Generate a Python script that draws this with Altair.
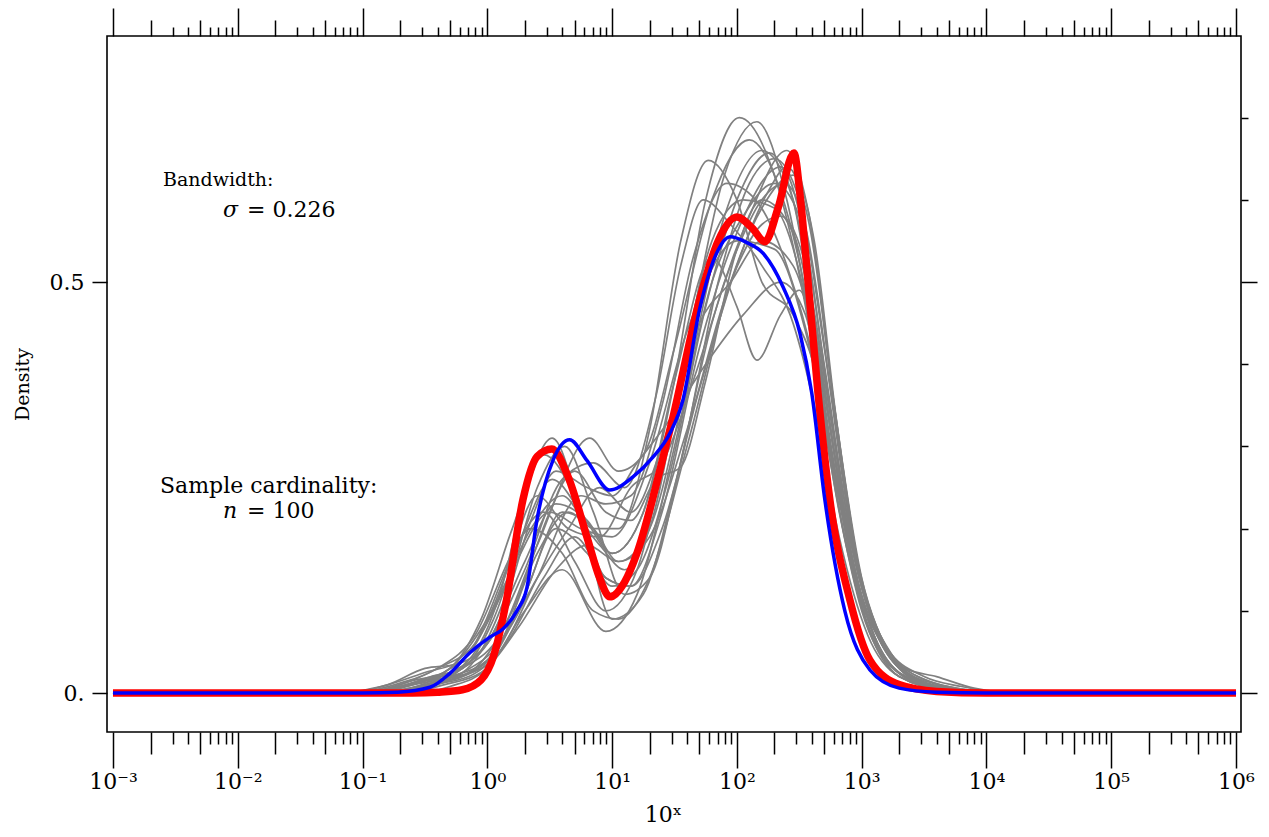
import math
import altair as alt
import pandas as pd

# ---------------- data ----------------
# x is log10 of the value (axis shows 10^x), y is density
RED_X = [-3.0, -0.6, -0.4, -0.2, -0.05, 0.05, 0.15, 0.285, 0.40, 0.517, 0.65, 0.798, 0.90, 0.982,
         1.10, 1.199, 1.383, 1.487, 1.70, 1.85, 2.0, 2.12, 2.224, 2.33, 2.457, 2.51, 2.56,
         2.65, 2.745, 2.906, 3.066, 3.306, 3.6, 4.0, 6.0]
RED_Y = [0.0, 0.0, 0.001, 0.004, 0.016, 0.045, 0.11, 0.235, 0.288, 0.297, 0.262, 0.19, 0.14, 0.117,
         0.135, 0.17, 0.271, 0.335, 0.478, 0.55, 0.579, 0.566, 0.549, 0.59, 0.657, 0.60, 0.518,
         0.365, 0.235, 0.113, 0.04, 0.01, 0.002, 0.0, 0.0]

BLUE_X = [-3.0, -1.0, -0.72, -0.46, -0.3, -0.14, 0.02, 0.125, 0.237, 0.317, 0.397, 0.526, 0.66,
          0.798, 0.98, 1.167, 1.327, 1.463, 1.567, 1.70, 1.85, 1.944, 2.08, 2.21, 2.37, 2.505,
          2.60, 2.705, 2.865, 3.066, 3.3, 3.6, 4.0, 6.0]
BLUE_Y = [0.0, 0.0, 0.001, 0.007, 0.024, 0.049, 0.068, 0.078, 0.10, 0.128, 0.21, 0.283, 0.308,
          0.283, 0.247, 0.263, 0.287, 0.316, 0.356, 0.466, 0.539, 0.555, 0.548, 0.535, 0.494, 0.438,
          0.365, 0.235, 0.10, 0.028, 0.006, 0.001, 0.0, 0.0]

GREY = [
    [[-3,0],[-1.1,0],[-0.7,0.008],[-0.45,0.02],[-0.2,0.03],[0.05,0.09],[0.3,0.2],[0.52,0.26],[0.75,0.22],[1.0,0.17],[1.25,0.22],[1.5,0.38],[1.75,0.6],[2.02,0.70],[2.3,0.63],[2.55,0.47],[2.75,0.28],[3.0,0.1],[3.25,0.03],[3.6,0.006],[4.2,0],[6,0]],
    [[-3,0],[-0.9,0],[-0.5,0.01],[-0.2,0.02],[0.1,0.06],[0.4,0.17],[0.65,0.22],[0.9,0.18],[1.1,0.15],[1.3,0.2],[1.6,0.42],[1.9,0.63],[2.16,0.695],[2.4,0.6],[2.6,0.44],[2.8,0.25],[3.05,0.09],[3.3,0.025],[3.7,0.004],[4.2,0],[6,0]],
    [[-3,0],[-0.8,0],[-0.4,0.012],[-0.1,0.03],[0.2,0.1],[0.5,0.22],[0.82,0.31],[1.05,0.27],[1.25,0.29],[1.5,0.42],[1.8,0.6],[2.1,0.673],[2.35,0.61],[2.6,0.45],[2.8,0.26],[3.05,0.09],[3.3,0.02],[3.7,0.003],[4.2,0],[6,0]],
    [[-3,0],[-1.2,0],[-0.8,0.01],[-0.5,0.025],[-0.2,0.04],[0.05,0.1],[0.35,0.2],[0.6,0.24],[0.85,0.2],[1.05,0.2],[1.3,0.32],[1.55,0.55],[1.77,0.648],[2.0,0.6],[2.2,0.5],[2.45,0.46],[2.65,0.38],[2.85,0.2],[3.1,0.07],[3.35,0.02],[3.8,0.003],[4.3,0],[6,0]],
    [[-3,0],[-1.0,0],[-0.6,0.012],[-0.3,0.025],[0,0.06],[0.3,0.16],[0.55,0.23],[0.8,0.21],[1.0,0.17],[1.25,0.22],[1.5,0.38],[1.8,0.53],[2.0,0.47],[2.16,0.405],[2.35,0.46],[2.5,0.49],[2.68,0.38],[2.9,0.18],[3.1,0.07],[3.35,0.02],[3.8,0.003],[4.3,0],[6,0]],
    [[-3,0],[-0.9,0],[-0.5,0.015],[-0.25,0.02],[0.05,0.045],[0.3,0.12],[0.55,0.2],[0.8,0.17],[1.0,0.13],[1.2,0.15],[1.45,0.26],[1.75,0.47],[2.0,0.6],[2.26,0.657],[2.45,0.6],[2.65,0.42],[2.85,0.23],[3.1,0.08],[3.35,0.025],[3.7,0.006],[4.2,0],[6,0]],
    [[-3,0],[-1.0,0],[-0.6,0.01],[-0.3,0.03],[-0.05,0.09],[0.2,0.2],[0.45,0.29],[0.7,0.24],[0.95,0.14],[1.15,0.13],[1.4,0.22],[1.7,0.42],[2.0,0.56],[2.35,0.64],[2.55,0.55],[2.75,0.34],[2.95,0.14],[3.2,0.04],[3.5,0.01],[4.0,0.001],[6,0]],
    [[-3,0],[-0.6,0],[-0.3,0.008],[0,0.03],[0.3,0.1],[0.6,0.15],[0.95,0.075],[1.2,0.12],[1.5,0.3],[1.8,0.5],[2.05,0.58],[2.3,0.62],[2.5,0.58],[2.7,0.4],[2.9,0.2],[3.15,0.07],[3.45,0.02],[3.9,0.003],[4.3,0],[6,0]],
    [[-3,0],[-0.8,0],[-0.45,0.015],[-0.15,0.04],[0.1,0.12],[0.3,0.24],[0.52,0.31],[0.75,0.22],[1.0,0.09],[1.25,0.12],[1.5,0.25],[1.8,0.45],[2.1,0.58],[2.4,0.66],[2.58,0.58],[2.78,0.35],[2.98,0.15],[3.2,0.05],[3.5,0.012],[4.0,0.001],[6,0]],
    [[-3,0],[-1.1,0],[-0.7,0.01],[-0.4,0.03],[-0.1,0.06],[0.2,0.15],[0.5,0.22],[0.75,0.2],[1.0,0.19],[1.3,0.28],[1.6,0.44],[2.0,0.55],[2.3,0.54],[2.55,0.44],[2.78,0.27],[3.0,0.12],[3.25,0.04],[3.6,0.008],[4.1,0],[6,0]],
    [[-3,0],[-0.9,0],[-0.5,0.01],[-0.2,0.03],[0.1,0.07],[0.4,0.18],[0.7,0.27],[0.95,0.22],[1.15,0.21],[1.35,0.26],[1.55,0.275],[1.75,0.38],[2.0,0.54],[2.2,0.6],[2.45,0.56],[2.65,0.42],[2.85,0.23],[3.1,0.08],[3.4,0.02],[3.8,0.003],[4.3,0],[6,0]],
    [[-3,0],[-1.0,0],[-0.6,0.012],[-0.3,0.03],[0,0.09],[0.35,0.2],[0.6,0.17],[0.85,0.1],[1.05,0.09],[1.3,0.14],[1.6,0.3],[1.95,0.5],[2.2,0.59],[2.45,0.63],[2.62,0.55],[2.8,0.33],[3.0,0.14],[3.25,0.045],[3.55,0.01],[4.1,0],[6,0]],
    [[-3,0],[-1.2,0],[-0.8,0.01],[-0.5,0.03],[-0.25,0.035],[0,0.06],[0.3,0.15],[0.6,0.26],[0.85,0.28],[1.1,0.25],[1.35,0.36],[1.55,0.52],[1.73,0.6],[1.95,0.57],[2.2,0.52],[2.45,0.45],[2.62,0.35],[2.82,0.19],[3.05,0.07],[3.3,0.02],[3.7,0.003],[4.2,0],[6,0]],
    [[-3,0],[-0.9,0],[-0.5,0.01],[-0.2,0.02],[0.1,0.05],[0.4,0.14],[0.75,0.24],[0.95,0.23],[1.15,0.24],[1.4,0.35],[1.65,0.53],[1.92,0.62],[2.15,0.6],[2.4,0.52],[2.62,0.4],[2.82,0.22],[3.05,0.08],[3.3,0.02],[3.7,0.003],[4.2,0],[6,0]],
    [[-3,0],[-0.8,0],[-0.4,0.01],[-0.1,0.04],[0.15,0.12],[0.4,0.25],[0.62,0.30],[0.85,0.22],[1.1,0.12],[1.3,0.14],[1.55,0.28],[1.85,0.5],[2.1,0.62],[2.3,0.65],[2.5,0.6],[2.7,0.42],[2.9,0.21],[3.15,0.07],[3.45,0.02],[3.9,0.003],[4.3,0],[6,0]],
    [[-3,0],[-0.7,0],[-0.35,0.01],[-0.05,0.025],[0.25,0.08],[0.55,0.15],[0.8,0.18],[1.05,0.16],[1.3,0.19],[1.6,0.32],[1.95,0.5],[2.2,0.57],[2.35,0.58],[2.55,0.52],[2.75,0.34],[2.95,0.16],[3.2,0.055],[3.5,0.02],[3.8,0.008],[4.2,0],[6,0]],
    [[-3,0],[-1.0,0],[-0.6,0.01],[-0.3,0.02],[0,0.04],[0.3,0.12],[0.6,0.22],[0.85,0.2],[1.05,0.16],[1.3,0.2],[1.6,0.38],[1.9,0.58],[2.2,0.66],[2.45,0.6],[2.65,0.43],[2.88,0.22],[3.1,0.08],[3.35,0.03],[3.6,0.02],[3.9,0.006],[4.3,0],[6,0]],
    [[-3,0],[-0.9,0],[-0.5,0.008],[-0.2,0.025],[0.1,0.06],[0.4,0.14],[0.65,0.2],[0.9,0.25],[1.15,0.22],[1.4,0.3],[1.7,0.45],[1.95,0.5],[2.2,0.55],[2.45,0.52],[2.65,0.41],[2.85,0.23],[3.1,0.085],[3.35,0.025],[3.8,0.003],[4.3,0],[6,0]],
    [[-3,0],[-1.1,0],[-0.7,0.012],[-0.4,0.03],[-0.1,0.07],[0.2,0.17],[0.45,0.22],[0.7,0.16],[0.95,0.1],[1.2,0.15],[1.5,0.35],[1.8,0.55],[2.05,0.6],[2.3,0.59],[2.55,0.48],[2.75,0.3],[2.97,0.12],[3.2,0.04],[3.5,0.01],[4.0,0.001],[6,0]],
    [[-3,0],[-0.9,0],[-0.5,0.01],[-0.2,0.03],[0.1,0.09],[0.35,0.21],[0.55,0.27],[0.8,0.25],[1.0,0.24],[1.2,0.28],[1.45,0.33],[1.75,0.4],[2.05,0.46],[2.35,0.5],[2.55,0.46],[2.75,0.3],[2.95,0.14],[3.2,0.05],[3.5,0.012],[4.0,0.001],[6,0]],
    [[-3,0],[-0.8,0],[-0.45,0.01],[-0.15,0.02],[0.15,0.06],[0.45,0.14],[0.7,0.19],[0.95,0.14],[1.15,0.13],[1.4,0.2],[1.7,0.37],[2.0,0.52],[2.25,0.61],[2.4,0.64],[2.58,0.57],[2.78,0.35],[2.98,0.15],[3.2,0.05],[3.5,0.012],[4.0,0.001],[6,0]],
    [[-3,0],[-1.0,0],[-0.6,0.015],[-0.35,0.025],[-0.1,0.06],[0.15,0.15],[0.4,0.24],[0.65,0.2],[0.9,0.19],[1.15,0.25],[1.4,0.28],[1.65,0.38],[1.95,0.52],[2.2,0.6],[2.38,0.62],[2.56,0.56],[2.76,0.36],[2.96,0.16],[3.2,0.055],[3.5,0.015],[4.0,0.002],[6,0]],
]

DECADES = [-3, -2, -1, 0, 1, 2, 3, 4, 5, 6]
DECADE_LABELS = ["10⁻³", "10⁻²", "10⁻¹", "10⁰", "10¹", "10²", "10³", "10⁴", "10⁵", "10⁶"]
MID_MULTIPLIERS = [2, 5]
SMALL_MULTIPLIERS = [3, 4, 6, 7, 8, 9]
Y_MAJOR = [0.0, 0.5]
Y_MINOR = [0.1, 0.2, 0.3, 0.4, 0.6, 0.7]

NOTE_TEXT = ["= 0.226", "Sample cardinality:", "= 100"]
NOTE_X = [-1.926, -2.623, -1.926]
NOTE_Y = [0.5795, 0.2433, 0.2129]
SMALL_NOTE_TEXT = ["Bandwidth:"]
SMALL_NOTE_X = [-2.599]
SMALL_NOTE_Y = [0.617]
ITALIC_TEXT = ["σ", "n"]
ITALIC_X = [-2.119, -2.119]
ITALIC_Y = [0.5795, 0.2129]

# ---------------- tables ----------------
grey_rows = []
for i, curve in enumerate(GREY):
    for j, (x, y) in enumerate(curve):
        grey_rows.append({"curve": i, "order": j, "x": x, "y": y})
grey_df = pd.DataFrame(grey_rows)
red_df = pd.DataFrame({"x": RED_X, "y": RED_Y})
blue_df = pd.DataFrame({"x": BLUE_X, "y": BLUE_Y})

mid_ticks = [d + math.log10(m) for d in DECADES[:-1] for m in MID_MULTIPLIERS]
small_ticks = [d + math.log10(m) for d in DECADES[:-1] for m in SMALL_MULTIPLIERS]

FONT = "DejaVu Serif"
xscale = alt.Scale(domain=[-3.048, 6.04], nice=False, zero=False)
yscale = alt.Scale(domain=[-0.0474, 0.7993], nice=False, zero=False)

label_array = "[" + ",".join("'%s'" % s for s in DECADE_LABELS) + "]"

anchor = pd.DataFrame({"x": [0.0], "y": [0.0]})


def axis_layer(xaxis=None, yaxis=None):
    return alt.Chart(anchor).mark_point(opacity=0).encode(
        x=alt.X("x:Q", scale=xscale, axis=xaxis),
        y=alt.Y("y:Q", scale=yscale, axis=yaxis),
    )


bottom_major = alt.Axis(orient="bottom", values=DECADES, tickSize=36, labels=True,
                        labelExpr=label_array + "[round(datum.value) + 3]",
                        labelFlush=False, labelOverlap=False, labelPadding=3,
                        labelFontSize=22, title="10ˣ", titleFontSize=22,
                        titleX=556, titleY=82, titleBaseline="middle", titleAlign="center")
bottom_mid = alt.Axis(orient="bottom", values=mid_ticks, tickSize=22, labels=False, title=None)
bottom_small = alt.Axis(orient="bottom", values=small_ticks, tickSize=12, labels=False, title=None)
top_major = alt.Axis(orient="top", values=DECADES, tickSize=28, labels=False, title=None)
top_mid = alt.Axis(orient="top", values=mid_ticks, tickSize=16, labels=False, title=None)
top_small = alt.Axis(orient="top", values=small_ticks, tickSize=9, labels=False, title=None)
left_axis = alt.Axis(orient="left", values=Y_MAJOR, tickSize=15, labelPadding=8,
                     labelExpr="datum.value == 0 ? '0.' : '0.5'", labelFontSize=22,
                     title="Density", titleFontSize=19, titleX=-85, titleY=348,
                     titleBaseline="middle", titleAlign="center", titleAngle=270)
right_major = alt.Axis(orient="right", values=Y_MAJOR, tickSize=16, labels=False, title=None)
right_minor = alt.Axis(orient="right", values=Y_MINOR, tickSize=7, labels=False, title=None)

grey = alt.Chart(grey_df).mark_line(color="#808080", strokeWidth=1.7, interpolate="monotone").encode(
    x=alt.X("x:Q", scale=xscale, axis=None),
    y=alt.Y("y:Q", scale=yscale, axis=None),
    detail="curve:N",
    order="order:Q",
)
red = alt.Chart(red_df).mark_line(color="#ff0000", strokeWidth=7.5, interpolate="monotone").encode(
    x=alt.X("x:Q", scale=xscale, axis=None),
    y=alt.Y("y:Q", scale=yscale, axis=None),
)
blue = alt.Chart(blue_df).mark_line(color="#0000ff", strokeWidth=3.5, interpolate="monotone").encode(
    x=alt.X("x:Q", scale=xscale, axis=None),
    y=alt.Y("y:Q", scale=yscale, axis=None),
)

notes = alt.Chart(pd.DataFrame({"t": NOTE_TEXT, "x": NOTE_X, "y": NOTE_Y})).mark_text(
    font=FONT, fontSize=22, align="left", baseline="alphabetic", color="black").encode(
    x=alt.X("x:Q", scale=xscale, axis=None), y=alt.Y("y:Q", scale=yscale, axis=None), text="t:N")
small_notes = alt.Chart(pd.DataFrame({"t": SMALL_NOTE_TEXT, "x": SMALL_NOTE_X, "y": SMALL_NOTE_Y})).mark_text(
    font=FONT, fontSize=19, align="left", baseline="alphabetic", color="black").encode(
    x=alt.X("x:Q", scale=xscale, axis=None), y=alt.Y("y:Q", scale=yscale, axis=None), text="t:N")
italic_notes = alt.Chart(pd.DataFrame({"t": ITALIC_TEXT, "x": ITALIC_X, "y": ITALIC_Y})).mark_text(
    font=FONT, fontSize=22, fontStyle="italic", align="left", baseline="alphabetic", color="black").encode(
    x=alt.X("x:Q", scale=xscale, axis=None), y=alt.Y("y:Q", scale=yscale, axis=None), text="t:N")

chart = alt.layer(
    grey, red, blue, notes, small_notes, italic_notes,
    axis_layer(xaxis=bottom_major, yaxis=left_axis),
    axis_layer(xaxis=bottom_mid, yaxis=right_major),
    axis_layer(xaxis=bottom_small, yaxis=right_minor),
    axis_layer(xaxis=top_major),
    axis_layer(xaxis=top_mid),
    axis_layer(xaxis=top_small),
).resolve_axis(x="independent", y="independent").properties(
    width=1134, height=696,
    padding={"left": 99, "top": 28, "right": 20, "bottom": 97},
    autosize=alt.AutoSizeParams(type="none"),
).configure_view(stroke="black", strokeWidth=1.6).configure_axis(
    domain=False, grid=False, tickColor="black", tickWidth=1.5,
    labelFont=FONT, labelColor="black", titleFont=FONT, titleColor="black",
    titleFontWeight="normal",
)

chart.save("out.html", embed_options={"renderer": "svg", "actions": False})
